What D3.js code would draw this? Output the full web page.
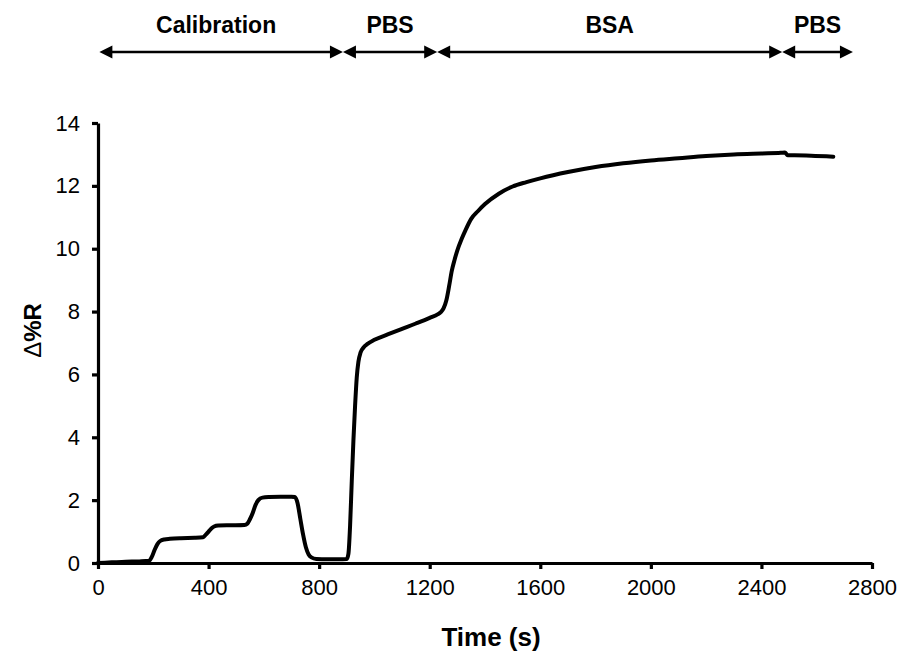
<!DOCTYPE html>
<html>
<head>
<meta charset="utf-8">
<script src="https://cdn.jsdelivr.net/npm/d3@7"></script>
<style>
  html, body { margin: 0; padding: 0; background: #fff; }
  svg { display: block; font-family: "Liberation Sans", Arial, sans-serif; }
</style>
</head>
<body>
<svg id="chart" width="900" height="651"></svg>
<script>
// Sensor response over time (s) vs change in reflectance (Δ%R)
const timeS = [0, 50, 100, 150, 185, 195, 205, 215, 225, 240, 260, 300, 350, 380, 390, 400, 410, 420, 435, 480, 530,
  540, 550, 560, 570, 580, 595, 620, 660, 700, 712, 722, 732, 742, 752, 762, 772, 790, 830, 870, 900,
  906, 912, 918, 924, 930, 936, 942, 950, 960, 975, 1000, 1050, 1100, 1150, 1200, 1230,
  1240, 1250, 1260, 1270, 1280, 1290, 1300, 1315, 1330, 1350, 1375, 1400, 1450, 1500, 1550, 1600,
  1700, 1800, 1900, 2000, 2100, 2200, 2300, 2400, 2470, 2485, 2495, 2520, 2580, 2660];
const deltaR = [0.00, 0.02, 0.04, 0.05, 0.07, 0.2, 0.42, 0.6, 0.7, 0.75, 0.77, 0.79, 0.8, 0.82, 0.9, 1.0, 1.1, 1.16, 1.19, 1.2, 1.21,
  1.25, 1.4, 1.6, 1.85, 2.0, 2.08, 2.1, 2.11, 2.11, 2.1, 1.9, 1.4, 0.9, 0.5, 0.27, 0.18, 0.13, 0.12, 0.12, 0.13,
  0.3, 1.2, 2.6, 3.9, 5.0, 5.9, 6.4, 6.7, 6.85, 6.97, 7.1, 7.28, 7.45, 7.62, 7.8, 7.92,
  7.98, 8.1, 8.35, 8.8, 9.3, 9.65, 9.95, 10.3, 10.6, 10.95, 11.2, 11.42, 11.75, 11.98, 12.12, 12.24,
  12.44, 12.6, 12.72, 12.81, 12.88, 12.95, 13.0, 13.03, 13.05, 13.06, 12.97, 12.97, 12.96, 12.93];

const xTicks = [0, 400, 800, 1200, 1600, 2000, 2400, 2800];
const yTicks = [0, 2, 4, 6, 8, 10, 12, 14];

// Experimental phases shown as arrows above the plot
const phaseNames = ["Calibration", "PBS", "BSA", "PBS"];
const phaseBounds = [5, 886, 1227, 2475, 2731];

const svg = d3.select("#chart");
const x = d3.scaleLinear().domain([0, 2800]).range([98, 872]);
const y = d3.scaleLinear().domain([0, 14]).range([563, 123]);

// Axes
const xAxis = svg.append("g")
  .attr("transform", `translate(0,${y(0)})`)
  .call(d3.axisBottom(x).tickValues(xTicks).tickFormat(d3.format("d"))
    .tickSize(6).tickSizeOuter(0).tickPadding(6));
const yAxis = svg.append("g")
  .attr("transform", `translate(${x(0)},0)`)
  .call(d3.axisLeft(y).tickValues(yTicks).tickFormat(d3.format("d"))
    .tickSize(6).tickSizeOuter(0).tickPadding(12));

[xAxis, yAxis].forEach(g => {
  g.select(".domain").attr("stroke", "#000").attr("stroke-width", 3.2);
  g.selectAll(".tick line").attr("stroke", "#000").attr("stroke-width", 3.2);
  g.selectAll(".tick text").attr("fill", "#000").style("font-size", "22px")
    .style("font-family", "'Liberation Sans', Arial, sans-serif");
});
xAxis.selectAll(".tick text").attr("dy", "0.9em");

// Axis titles
svg.append("text")
  .attr("x", 491).attr("y", 646)
  .attr("text-anchor", "middle")
  .style("font-size", "26px").style("font-weight", "bold")
  .text("Time (s)");
const yTitle = svg.append("text")
  .attr("transform", `translate(41,${y(7.4)}) rotate(-90)`)
  .attr("text-anchor", "middle")
  .style("font-size", "24px").style("font-weight", "bold");
yTitle.append("tspan").style("font-weight", "normal").text("Δ");
yTitle.append("tspan").text("%R");

// Response curve
const pts = timeS.map((t, i) => [t, deltaR[i]]);
svg.append("path")
  .datum(pts)
  .attr("fill", "none")
  .attr("stroke", "#000")
  .attr("stroke-width", 4)
  .attr("stroke-linejoin", "round")
  .attr("stroke-linecap", "round")
  .attr("d", d3.line().x(d => x(d[0])).y(d => y(d[1])).curve(d3.curveMonotoneX));

// Phase arrows
const arrowY = 52, headW = 13, headH = 6.5;
const arrows = svg.append("g");
phaseNames.forEach((name, i) => {
  const x0 = x(phaseBounds[i]), x1 = x(phaseBounds[i + 1]);
  arrows.append("line")
    .attr("x1", x0 + headW - 1).attr("x2", x1 - headW + 1)
    .attr("y1", arrowY).attr("y2", arrowY)
    .attr("stroke", "#000").attr("stroke-width", 2.5);
  arrows.append("path")
    .attr("d", `M${x0},${arrowY}L${x0 + headW},${arrowY - headH}L${x0 + headW},${arrowY + headH}Z`)
    .attr("fill", "#000");
  arrows.append("path")
    .attr("d", `M${x1},${arrowY}L${x1 - headW},${arrowY - headH}L${x1 - headW},${arrowY + headH}Z`)
    .attr("fill", "#000");
  arrows.append("text")
    .attr("x", (x0 + x1) / 2 + (i === 0 ? -5 : 0))
    .attr("y", 33)
    .attr("text-anchor", "middle")
    .style("font-size", "23px").style("font-weight", "bold")
    .text(name);
});
</script>
</body>
</html>
